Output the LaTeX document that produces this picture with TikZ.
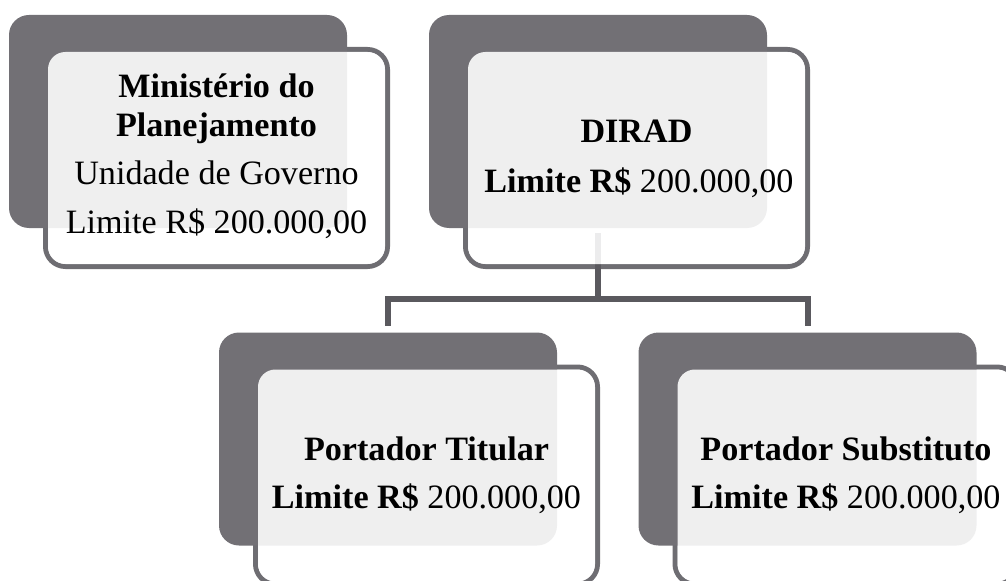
\documentclass[tikz,border=0pt]{standalone}
\usepackage{fontspec}
\setmainfont{Liberation Serif}
\definecolor{darkbox}{HTML}{727075}
\definecolor{framecol}{HTML}{6E6D72}
\definecolor{conncol}{HTML}{5A595E}
\begin{document}
\begin{tikzpicture}[x=0.75pt,y=-0.75pt,
  backbox/.style={rectangle,rounded corners=15pt,fill=darkbox,draw=none,inner sep=0pt,
    minimum width=253.5pt,minimum height=159.75pt},
  framebox/.style={rectangle,rounded corners=15pt,fill=white,draw=framecol,line width=3.75pt,inner sep=0pt,
    minimum width=256.5pt,minimum height=162.75pt},
  veilbox/.style={rectangle,rounded corners=13pt,fill=white,fill opacity=0.89,draw=none,inner sep=0pt,
    minimum width=252.75pt,minimum height=159pt},
  conn/.style={draw=conncol,line width=4.5pt},
  txt/.style={anchor=base,inner sep=0pt,font=\fontsize{25.6}{30}\selectfont}]
\useasboundingbox (0,0) rectangle (1006,581);
\clip (0,0) rectangle (1006,581);
% frames (bottom layer)
\node[framebox] (f1) at (216.5,158) {};
\node[framebox] (f2) at (636.5,158) {};
\node[framebox] (f3) at (426.5,475.5) {};
\node[framebox] (f4) at (846,475.5) {};
% dark back boxes
\node[backbox] (b1) at (178,121.5) {};
\node[backbox] (b2) at (598,121.5) {};
\node[backbox] (b3) at (388,439) {};
\node[backbox] (b4) at (807.5,439) {};
% connectors
\coordinate (bus) at (598,299);
\draw[conn,shorten <=3.75pt,shorten >=4.5pt] (b2.south) -- (bus) -| (b3.north);
\draw[conn,shorten <=3.75pt,shorten >=4.5pt] (b2.south) -- (bus) -| (b4.north);
% translucent front fills
\node[veilbox] (g1) at (f1.center) {};
\node[veilbox] (g2) at (f2.center) {};
\node[veilbox] (g3) at (f3.center) {};
\node[veilbox] (g4) at (f4.center) {};
% texts
\node[txt] (t11) at (216.5,98) {\textbf{Ministério do}};
\node[txt] (t12) at (216.5,137) {\textbf{Planejamento}};
\node[txt] (t13) at (216.5,185) {Unidade de Governo};
\node[txt] (t14) at (216.5,233) {Limite R\$ 200.000,00};
\node[txt] (t21) at (636.5,143) {\textbf{DIRAD}};
\node[txt] (t22) at (639,192) {\textbf{Limite R\$} 200.000,00};
\node[txt] (t31) at (426.5,460) {\textbf{Portador Titular}};
\node[txt] (t32) at (426.5,508) {\textbf{Limite R\$} 200.000,00};
\node[txt] (t41) at (846,460) {\textbf{Portador Substituto}};
\node[txt] (t42) at (846,508) {\textbf{Limite R\$} 200.000,00};
\end{tikzpicture}
\end{document}
